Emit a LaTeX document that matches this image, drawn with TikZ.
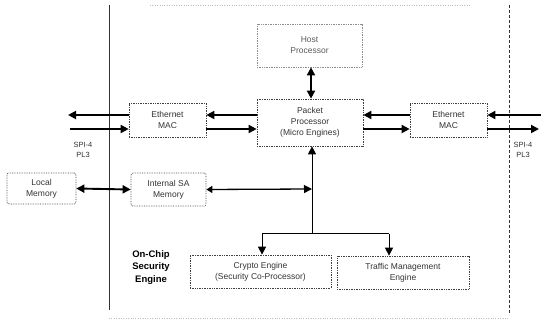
\documentclass[tikz,border=0pt]{standalone}
\usepackage{fontspec}
\setmainfont{Liberation Sans}
\usetikzlibrary{arrows.meta}
\begin{document}
\begin{tikzpicture}[x=1pt,y=-1pt,
  blk/.style={draw=black!75, densely dotted, line width=0.7pt, rectangle, align=center,
    inner sep=1pt, font=\fontsize{8.5}{11}\selectfont, text=black!80},
  thk/.style={line width=1.9pt, -{Triangle[length=8pt,width=8pt]}},
  dthk/.style={line width=1.9pt, {Triangle[length=8pt,width=8pt]}-{Triangle[length=8pt,width=8pt]}},
  thn/.style={line width=1pt, -{Triangle[length=8pt,width=8pt]}},
  lbl/.style={font=\fontsize{7.5}{10}\selectfont, text=black!80, align=center, inner sep=0pt}]
\useasboundingbox (0,0) rectangle (541,323);
% frame lines
\draw[line width=0.8pt, black!80] (109,5) -- (109,310);
\draw[line width=0.8pt, black!80, densely dashed] (509,5) -- (509,315);
\draw[black!25, dotted] (150,5) -- (470,5);
\draw[black!25, dotted] (109,318) -- (509,318);
% blocks
\node[blk, draw=black!45, text=black!65, minimum width=105pt, minimum height=43pt] (host) at (309.5,45.5) {Host\\Processor};
\node[blk, minimum width=106pt, minimum height=47pt] (pp) at (310,122.5) {Packet\\Processor\\(Micro Engines)};
\node[blk, minimum width=77pt, minimum height=34pt] (lmac) at (167.5,120) {Ethernet\\MAC};
\node[blk, minimum width=77pt, minimum height=34pt] (rmac) at (448.5,120) {Ethernet\\MAC};
\node[blk, rounded corners=2pt, minimum width=75pt, minimum height=33pt] (sa) at (168.5,189.5) {Internal SA\\Memory};
\node[blk, rounded corners=2pt, minimum width=69pt, minimum height=31pt] (lm) at (41.5,188.5) {Local\\Memory};
\node[blk, minimum width=141pt, minimum height=33pt] (cr) at (260.5,271.5) {Crypto Engine\\(Security Co-Processor)};
\node[blk, minimum width=132pt, minimum height=33pt] (tm) at (403,272.5) {Traffic Management\\Engine};
\node[font=\fontsize{9.5}{12.5}\selectfont\bfseries, align=center, inner sep=0pt] (ocs) at (151,267.5) {On-Chip\\Security\\Engine};
% labels
\node[lbl] (spl) at (83,149.5) {SPI-4\\PL3};
\node[lbl] (spr) at (523,149.5) {SPI-4\\PL3};
% coordinates
\coordinate (l1) at (68,115);
\coordinate (l2) at (70,129);
\coordinate (r1) at (541,115);
\coordinate (r2) at (539,129);
\coordinate (bus) at (312,234);
\coordinate (busl) at (262,234);
\coordinate (busr) at (389,234);
\coordinate (sat) at (312,189);
% ethernet arrows
\draw[thk] (lmac.west |- 0,115) -- (l1);
\draw[thk] (l2) -- (lmac.west |- 0,129);
\draw[thk] (pp.west |- 0,115) -- (lmac.east |- 0,115);
\draw[thk] (lmac.east |- 0,129) -- (pp.west |- 0,129);
\draw[thk] (rmac.west |- 0,115) -- (pp.east |- 0,115);
\draw[thk] (pp.east |- 0,129) -- (rmac.west |- 0,129);
\draw[thk] (r1) -- (rmac.east |- 0,115);
\draw[thk] (rmac.east |- 0,129) -- (r2);
% host - packet
\draw[dthk] (host.south -| 311,0) -- (pp.north -| 311,0);
% bus
\draw[thn] (bus) -- (pp.south -| bus);
\draw[line width=1pt] (busl) -- (busr);
\draw[thn] (busl) -- (cr.north -| busl);
\draw[thn] (busr) -- (tm.north -| busr);
\draw[line width=1.3pt, {Triangle[length=6pt,width=7pt]}-{Triangle[length=8pt,width=8pt]}] (sa.east) -- (sat);
\draw[dthk] (lm.east) -- (sa.west);
\end{tikzpicture}
\end{document}
